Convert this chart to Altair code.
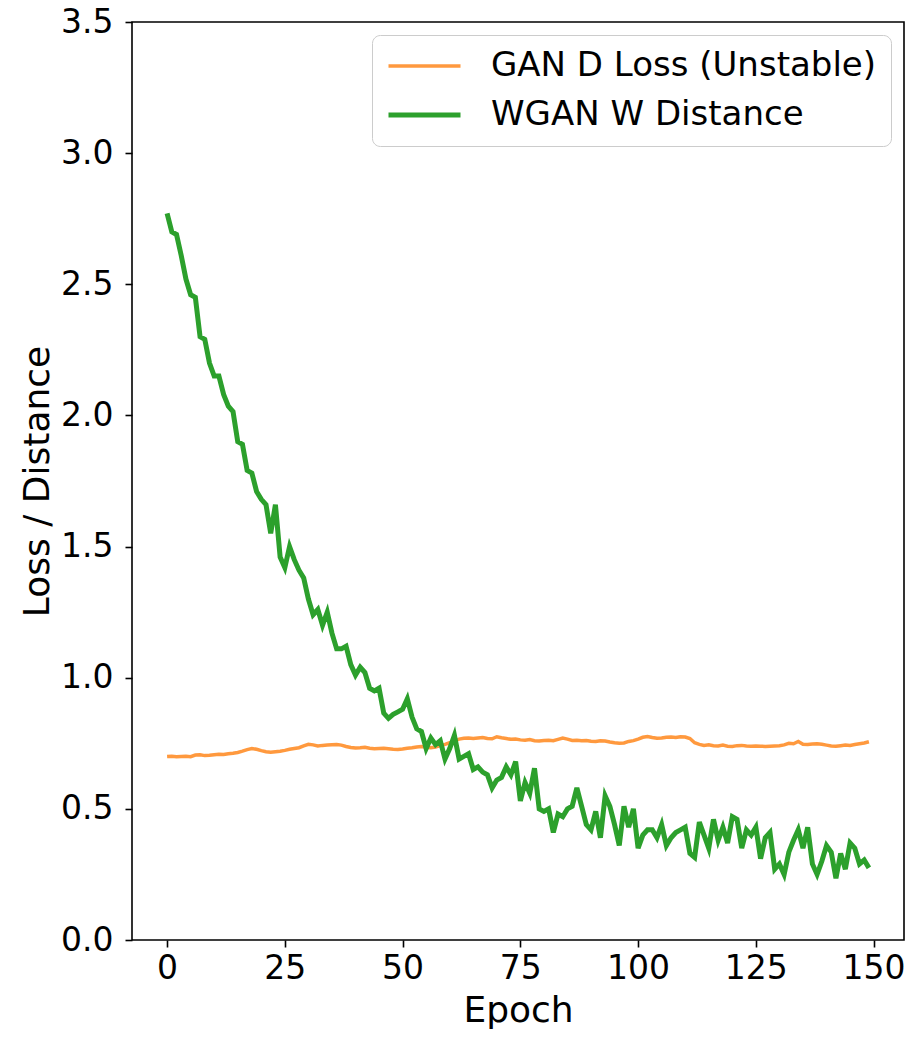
import altair as alt
import pandas as pd

epochs = list(range(150))

gan_d_loss = [
    0.700, 0.701, 0.699, 0.700, 0.701, 0.699, 0.705, 0.706, 0.703, 0.704,
    0.706, 0.708, 0.707, 0.710, 0.712, 0.715, 0.720, 0.726, 0.730, 0.727,
    0.722, 0.718, 0.716, 0.718, 0.720, 0.723, 0.727, 0.730, 0.733, 0.740,
    0.746, 0.744, 0.740, 0.742, 0.743, 0.744, 0.745, 0.743, 0.738, 0.734,
    0.732, 0.733, 0.735, 0.731, 0.729, 0.730, 0.731, 0.729, 0.727, 0.726,
    0.728, 0.731, 0.733, 0.736, 0.738, 0.735, 0.733, 0.736, 0.741, 0.746,
    0.752, 0.760, 0.766, 0.769, 0.770, 0.768, 0.770, 0.772, 0.768, 0.767,
    0.775, 0.771, 0.768, 0.765, 0.766, 0.763, 0.762, 0.764, 0.760, 0.759,
    0.761, 0.762, 0.760, 0.765, 0.770, 0.766, 0.761, 0.762, 0.760, 0.761,
    0.758, 0.757, 0.760, 0.759, 0.755, 0.752, 0.750, 0.751, 0.757, 0.760,
    0.766, 0.773, 0.776, 0.772, 0.769, 0.770, 0.773, 0.774, 0.772, 0.775,
    0.774, 0.768, 0.752, 0.746, 0.742, 0.744, 0.741, 0.740, 0.743, 0.739,
    0.738, 0.741, 0.742, 0.740, 0.739, 0.740, 0.739, 0.738, 0.739, 0.740,
    0.741, 0.744, 0.750, 0.748, 0.757, 0.746, 0.745, 0.747, 0.748, 0.746,
    0.743, 0.740, 0.739, 0.741, 0.743, 0.742, 0.745, 0.748, 0.751, 0.756,
]

wgan_w_distance = [
    2.77, 2.70, 2.69, 2.61, 2.52, 2.46, 2.45, 2.30, 2.29, 2.20,
    2.15, 2.15, 2.08, 2.035, 2.015, 1.90, 1.89, 1.79, 1.78, 1.71,
    1.68, 1.66, 1.55, 1.66, 1.46, 1.42, 1.50, 1.45, 1.41, 1.38,
    1.30, 1.24, 1.26, 1.20, 1.25, 1.17, 1.11, 1.11, 1.12, 1.05,
    1.01, 1.04, 1.02, 0.96, 0.95, 0.96, 0.865, 0.845, 0.86, 0.87,
    0.88, 0.92, 0.85, 0.805, 0.795, 0.73, 0.77, 0.745, 0.76, 0.69,
    0.73, 0.78, 0.69, 0.70, 0.71, 0.65, 0.66, 0.64, 0.63, 0.58,
    0.61, 0.62, 0.66, 0.63, 0.68, 0.53, 0.60, 0.56, 0.655, 0.50,
    0.49, 0.50, 0.41, 0.48, 0.47, 0.50, 0.51, 0.58, 0.51, 0.44,
    0.42, 0.49, 0.39, 0.55, 0.51, 0.44, 0.36, 0.51, 0.43, 0.50,
    0.35, 0.40, 0.42, 0.42, 0.39, 0.44, 0.36, 0.39, 0.41, 0.42,
    0.43, 0.33, 0.315, 0.45, 0.40, 0.35, 0.46, 0.38, 0.43, 0.37,
    0.47, 0.46, 0.35, 0.42, 0.40, 0.43, 0.31, 0.39, 0.41, 0.27,
    0.29, 0.25, 0.335, 0.38, 0.42, 0.35, 0.43, 0.29, 0.25, 0.30,
    0.36, 0.335, 0.235, 0.33, 0.27, 0.37, 0.35, 0.29, 0.305, 0.275,
]

series_names = ["GAN D Loss (Unstable)", "WGAN W Distance"]
series_colors = ["#ff993e", "#2ca02c"]
series_widths = [3.5, 5]
x_ticks = [0, 25, 50, 75, 100, 125, 150]
y_ticks = [0.0, 0.5, 1.0, 1.5, 2.0, 2.5, 3.0, 3.5]
title_text = "Training Stability: GAN vs WGAN"

df = pd.DataFrame({
    "epoch": epochs + epochs,
    "value": gan_d_loss + wgan_w_distance,
    "series": [series_names[0]] * len(epochs) + [series_names[1]] * len(epochs),
})

FONT = "DejaVu Sans"

legend_spec = alt.Legend(
    title=None,
    orient="top-right",
    offset=13,
    symbolType="stroke",
    symbolSize=5184,
    clipHeight=34,
    labelFontSize=34,
    labelFont=FONT,
    labelColor="black",
    labelOffset=28,
    rowPadding=15,
    padding=14,
    fillColor="white",
    strokeColor="#cccccc",
    cornerRadius=8,
    labelLimit=1000,
)

chart = alt.Chart(df).mark_line().encode(
    x=alt.X(
        "epoch:Q",
        scale=alt.Scale(domain=[-7.45, 156.45], nice=False, zero=False),
        axis=alt.Axis(values=x_ticks, title="Epoch", format="d",
                      labelFontSize=33,
                      labelPadding=5, titleY=81, titleBaseline="alphabetic"),
    ),
    y=alt.Y(
        "value:Q",
        scale=alt.Scale(domain=[0, 3.5], nice=False),
        axis=alt.Axis(values=y_ticks, title="Loss / Distance", format=".1f",
                      labelFontSize=33,
                      labelPadding=12, titleX=-84, titleY=459,
                      titleBaseline="alphabetic", titleAngle=-90),
    ),
    color=alt.Color("series:N",
                    scale=alt.Scale(domain=series_names, range=series_colors),
                    legend=legend_spec),
    strokeWidth=alt.StrokeWidth("series:N",
                                scale=alt.Scale(domain=series_names, range=series_widths),
                                legend=legend_spec),
).properties(
    width=772,
    height=918,
    title=alt.TitleParams(title_text, fontSize=41, font=FONT, fontWeight="normal",
                          color="black", offset=19, baseline="alphabetic"),
    autosize=alt.AutoSizeParams(type="none"),
    padding={"left": 124, "top": 14, "right": 2, "bottom": 90},
).configure_view(
    stroke="black",
    strokeWidth=1.6,
).configure_axis(
    domain=False,
    grid=False,
    ticks=True,
    tickColor="black",
    tickWidth=1.6,
    tickSize=7,
    labelFont=FONT,
    labelFontSize=34,
    labelColor="black",
    titleFont=FONT,
    titleFontSize=36,
    titleFontWeight="normal",
    titleColor="black",
)

chart.save("out.html", embed_options={"renderer": "svg", "actions": False})
